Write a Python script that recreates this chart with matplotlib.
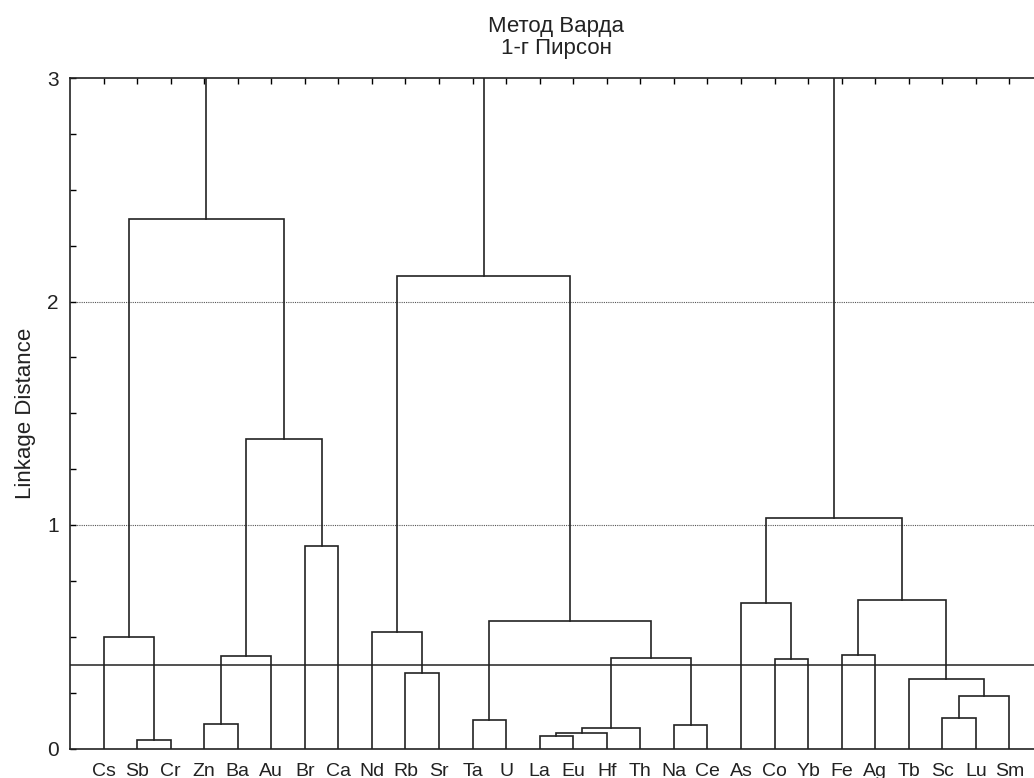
import matplotlib
matplotlib.use("Agg")
import matplotlib.pyplot as plt
from matplotlib.ticker import MultipleLocator

plt.rcParams['font.family'] = ['Liberation Sans', 'DejaVu Sans']

# Leaf order (left to right)
leaves = ["Cs", "Sb", "Cr", "Zn", "Ba", "Au", "Br", "Ca", "Nd", "Rb", "Sr", "Ta", "U", "La",
          "Eu", "Hf", "Th", "Na", "Ce", "As", "Co", "Yb", "Fe", "Ag", "Tb", "Sc", "Lu", "Sm"]

# Merges (scipy-like: ids 0..27 are leaves, new clusters numbered from 28)
merge_left = [1, 0, 3, 30, 6, 31, 29, 9, 8, 11, 13, 38, 39, 17, 40, 37, 36,
              20, 19, 22, 25, 48, 24, 47, 46, 34, 53]
merge_right = [2, 28, 4, 5, 7, 32, 33, 10, 35, 12, 14, 15, 16, 18, 41, 42, 43,
               21, 45, 23, 26, 27, 49, 50, 51, 44, 52]
merge_height = [0.038, 0.497, 0.111, 0.415, 0.906, 1.385, 2.37, 0.336, 0.52, 0.129,
                0.057, 0.069, 0.090, 0.104, 0.404, 0.570, 2.114,
                0.399, 0.652, 0.417, 0.135, 0.234, 0.311, 0.666, 1.033, 3.6, 4.2]

cut_level = 0.374

fig = plt.figure(figsize=(10.34, 7.78), dpi=100)
W, H = 1034, 778
x0, spacing = 70, 33.55
nx = 29
ax = fig.add_axes([x0 / W, (H - 748.5) / H, nx * spacing / W, (748.5 - 78) / H])

# positions of nodes
xpos = {i: i + 1 for i in range(len(leaves))}
ypos = {i: 0.0 for i in range(len(leaves))}
n = len(leaves)
lc = '#222222'
for k, (a, b, h) in enumerate(zip(merge_left, merge_right, merge_height)):
    xa, xb = xpos[a], xpos[b]
    ya, yb = ypos[a], ypos[b]
    ax.plot([xa, xa, xb, xb], [ya, h, h, yb], color=lc, lw=1.2, solid_joinstyle='miter', zorder=3)
    xpos[n + k] = (xa + xb) / 2
    ypos[n + k] = h

for g in (1, 2):
    ax.axhline(g, color='#555555', lw=0.8, ls=(0, (1, 1)), zorder=1)
ax.axhline(cut_level, color=lc, lw=1.1, zorder=2)

ax.set_xlim(0, nx)
ax.set_ylim(0, 3)
ax.set_xticks(range(1, n + 1))
ax.set_xticklabels(leaves, fontsize=14, color='#222222')
ax.tick_params(axis='x', bottom=False, top=True, direction='in', length=4,
               labelbottom=True, pad=10.5, width=1)
ax.yaxis.set_major_locator(MultipleLocator(1))
ax.yaxis.set_minor_locator(MultipleLocator(0.25))
ax.tick_params(axis='y', which='both', direction='in', length=4, width=1,
               labelsize=15, pad=8, labelcolor='#222222')
for s in ax.spines.values():
    s.set_linewidth(1.2)
    s.set_color(lc)
ax.set_ylabel("Linkage Distance", fontsize=16, labelpad=8, color='#222222')
ax.set_title("Метод Варда\n1-г Пирсон", fontsize=16, pad=17, linespacing=1.1, color='#222222')

fig.savefig("out.png", dpi=100)
